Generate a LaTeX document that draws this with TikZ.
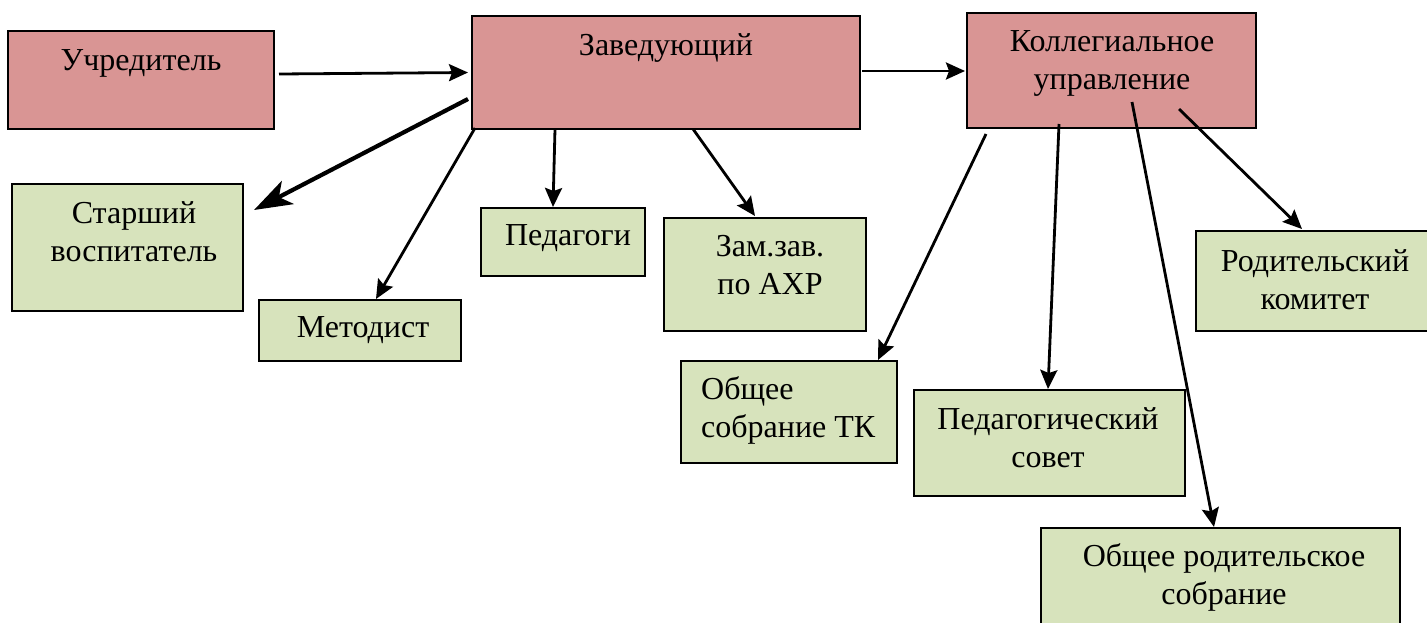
\documentclass[tikz,border=0pt]{standalone}
\usepackage{fontspec}
\setmainfont{Liberation Serif}
\usetikzlibrary{arrows.meta,calc}
\definecolor{pinkfill}{HTML}{D99594}
\definecolor{greenfill}{HTML}{D7E3BC}
\tikzset{
  box/.style={draw=black, line width=2.2pt, inner sep=0pt, outer sep=0pt},
  head/.style={box, fill=pinkfill},
  sub/.style={box, fill=greenfill},
  lbl/.style={inner sep=0pt, font=\fontsize{32}{38}\selectfont, align=center},
  arr/.style={line width=2.8pt, -{Stealth[length=19pt,width=17pt,inset=3pt]}},
  bigarr/.style={line width=4.2pt, -{Stealth[length=38pt,width=26pt,inset=10pt]}}
}
\begin{document}
\begin{tikzpicture}[x=1pt,y=-1pt]
\useasboundingbox (0,0) rectangle (1427,622);
% boxes
\node[head, minimum width=266pt, minimum height=98pt] (uchr) at (141,80) {};
\node[head, minimum width=388pt, minimum height=113pt] (zav) at (666,72.5) {};
\node[head, minimum width=289pt, minimum height=115pt] (koll) at (1111.5,70.5) {};
\node[sub, minimum width=231pt, minimum height=127pt] (starsh) at (127.5,247.5) {};
\node[sub, minimum width=202pt, minimum height=61pt] (metod) at (360,330.5) {};
\node[sub, minimum width=164pt, minimum height=68pt] (ped) at (563,242) {};
\node[sub, minimum width=202pt, minimum height=113pt] (zam) at (765,274.5) {};
\node[sub, minimum width=216pt, minimum height=102pt] (obtk) at (789,412) {};
\node[sub, minimum width=271pt, minimum height=106pt] (pedsov) at (1049.5,443) {};
\node[sub, minimum width=359pt, minimum height=132pt] (obrod) at (1220.5,594) {};
\node[sub, minimum width=254pt, minimum height=100pt] (rodkom) at (1323,281) {};
% texts
\node[lbl] (uchr-t) at (141,63) {Учредитель};
\node[lbl] (zav-t) at (666,48) {Заведующий};
\node[lbl] (koll-t) at (1112,63) {Коллегиальное\\управление};
\node[lbl] (starsh-t) at (134,232) {Старший\\воспитатель};
\node[lbl] (metod-t) at (363,330) {Методист};
\node[lbl] (ped-t) at (568,238) {Педагоги};
\node[lbl] (zam-t) at (770,265) {Зам.зав.\\по АХР};
\node[lbl, align=left, anchor=west] (obtk-t) at (701,410) {Общее\\собрание ТК};
\node[lbl] (pedsov-t) at (1048,438) {Педагогический\\совет};
\node[lbl] (obrod-t) at (1224,577) {Общее родительское\\собрание};
\node[lbl] (rodkom-t) at (1315,280) {Родительский\\комитет};
% connectors
\draw[arr] ($(uchr.east)+(5,-6)$) -- ($(zav.west)+(-4,0)$);
\draw[bigarr] ($(zav.west)+(-4,26.5)$) -- ($(starsh.north east)+(11,26)$);
\draw[arr] ($(zav.south west)+(3,-1)$) -- ($(metod.north west)+(117,-1)$);
\draw[arr] ($(zav.south west)+(83,0)$) -- ($(ped.north west)+(72,-1)$);
\draw[arr] ($(zav.south west)+(221,0)$) -- ($(zam.north west)+(91,-2)$);
\draw[arr] ($(zav.east)+(2,-1.5)$) -- ($(koll.west)+(-2,0.5)$);
\draw[arr] ($(koll.south west)+(19,6)$) -- ($(obtk.north east)+(-19,-1)$);
\draw[arr] ($(koll.south west)+(92,-4)$) -- ($(pedsov.north west)+(134,-1)$);
\draw[arr] ($(koll.south west)+(165,-26)$) -- ($(obrod.north west)+(173,-1)$);
\draw[arr] ($(koll.south west)+(212,-19)$) -- ($(rodkom.north west)+(106,-2)$);
\end{tikzpicture}
\end{document}
